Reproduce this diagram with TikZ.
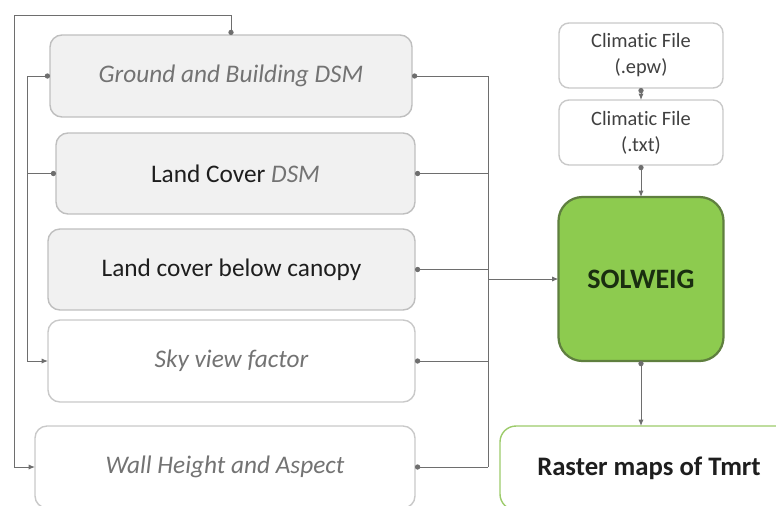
\documentclass[tikz,border=0pt]{standalone}
\usepackage{fontspec}
\setmainfont{Carlito}[Ligatures=NoCommon]
\usepackage{xcolor}
\usepackage{tikz}
\usetikzlibrary{arrows.meta,positioning,calc}
\definecolor{wire}{HTML}{6E6E6E}
\definecolor{boxline}{HTML}{BFBFBF}
\definecolor{boxfill}{HTML}{F1F1F1}
\definecolor{itgray}{HTML}{737373}
\definecolor{ink}{HTML}{1E1E1E}
\definecolor{fileink}{HTML}{404040}
\definecolor{solgreen}{HTML}{8DCB4F}
\definecolor{soledge}{HTML}{5F7F3F}
\definecolor{solink}{HTML}{1A2E10}
\definecolor{outgreen}{HTML}{9CCB6A}
\newcommand{\gi}[1]{{\color{itgray}\itshape #1}}

\begin{document}
\begin{tikzpicture}[
  x=0.25mm, y=-0.25mm,
  inbox/.style={draw=boxline, line width=1pt, rounded corners=3mm, fill=boxfill, inner sep=0pt, outer sep=0pt, minimum height=20.5mm, font=\fontsize{18}{21}\selectfont, text=ink},
  plainbox/.style={inbox, fill=white, draw=boxline!85},
  filebox/.style={draw=boxline!85, line width=1pt, rounded corners=2.5mm, fill=white, inner sep=0pt, outer sep=0pt, align=center, minimum width=41mm, minimum height=16.25mm, font=\fontsize{14.5}{18.5}\selectfont, text=fileink},
  model/.style={draw=soledge, line width=1.6pt, rounded corners=6mm, fill=solgreen, inner sep=0pt, outer sep=0pt, minimum width=41.25mm, minimum height=41mm, font=\fontsize{20}{23}\selectfont\bfseries, text=solink},
  result/.style={draw=outgreen, line width=1pt, rounded corners=4mm, fill=white, inner sep=0pt, outer sep=0pt, minimum width=74.5mm, minimum height=21mm, font=\fontsize{19}{23}\selectfont\bfseries, text=ink},
  line/.style={draw=wire, line width=0.7pt},
  link/.style={line, {Circle[length=1.3mm]}-{Latex[length=1.6mm, width=1.3mm]}},
  arrow/.style={line, -{Latex[length=1.6mm, width=1.3mm]}},
  tap/.style={line, {Circle[length=1.3mm]}-}
]
\useasboundingbox (0,0) rectangle (776,505);

% inputs
\node[inbox, minimum width=90.5mm] (ground) at (231,76) {\gi{Ground and Building DSM}};
\node[inbox, minimum width=89.75mm, minimum height=20.25mm, below=4mm of ground.south east, anchor=north east, xshift=0.75mm] (landcover) {Land Cover \gi{DSM}};
\node[inbox, minimum width=91.75mm, minimum height=20.25mm, below=3.75mm of landcover.south east, anchor=north east] (canopy) {Land cover below canopy};
\node[plainbox, minimum width=91.75mm, below=2.5mm of canopy.south east, anchor=north east] (sky) {\gi{Sky view factor}};
\node[plainbox, minimum width=95mm, below=6mm of sky.south east, anchor=north east] (wall) {\gi{Wall Height and Aspect}};

% model
\node[filebox] (epw) at (641,55.5) {Climatic File\\(.epw)};
\node[filebox, below=3mm of epw] (txt) {Climatic File\\(.txt)};
\node[model, below=8mm of txt] (solweig) {SOLWEIG};
\node[result, below=16.25mm of solweig, xshift=2mm] (raster) {Raster maps of Tmrt};

\coordinate (lbus) at ($(ground.west)+(-23,0)$);
\coordinate (rbus) at ($(ground.east)+(76,0)$);

\draw[link] (ground.north) |- ++(-217,-20) |- (wall.west);
\draw[link] (ground.west) -- (lbus) |- (sky.west);
\draw[tap] (landcover.west) -- (landcover.west -| lbus);

\foreach \n in {ground,landcover,canopy,sky,wall}
  \draw[tap] (\n.east) -- (\n.east -| rbus);
\draw[line] (ground.east -| rbus) -- (wall.east -| rbus);
\draw[arrow] (rbus |- solweig.west) -- (solweig.west);

\draw[link] (epw) -- (txt);
\draw[link] (txt) -- (solweig);
\draw[link] (solweig.south) -- (solweig.south |- raster.north);
\end{tikzpicture}
\end{document}
